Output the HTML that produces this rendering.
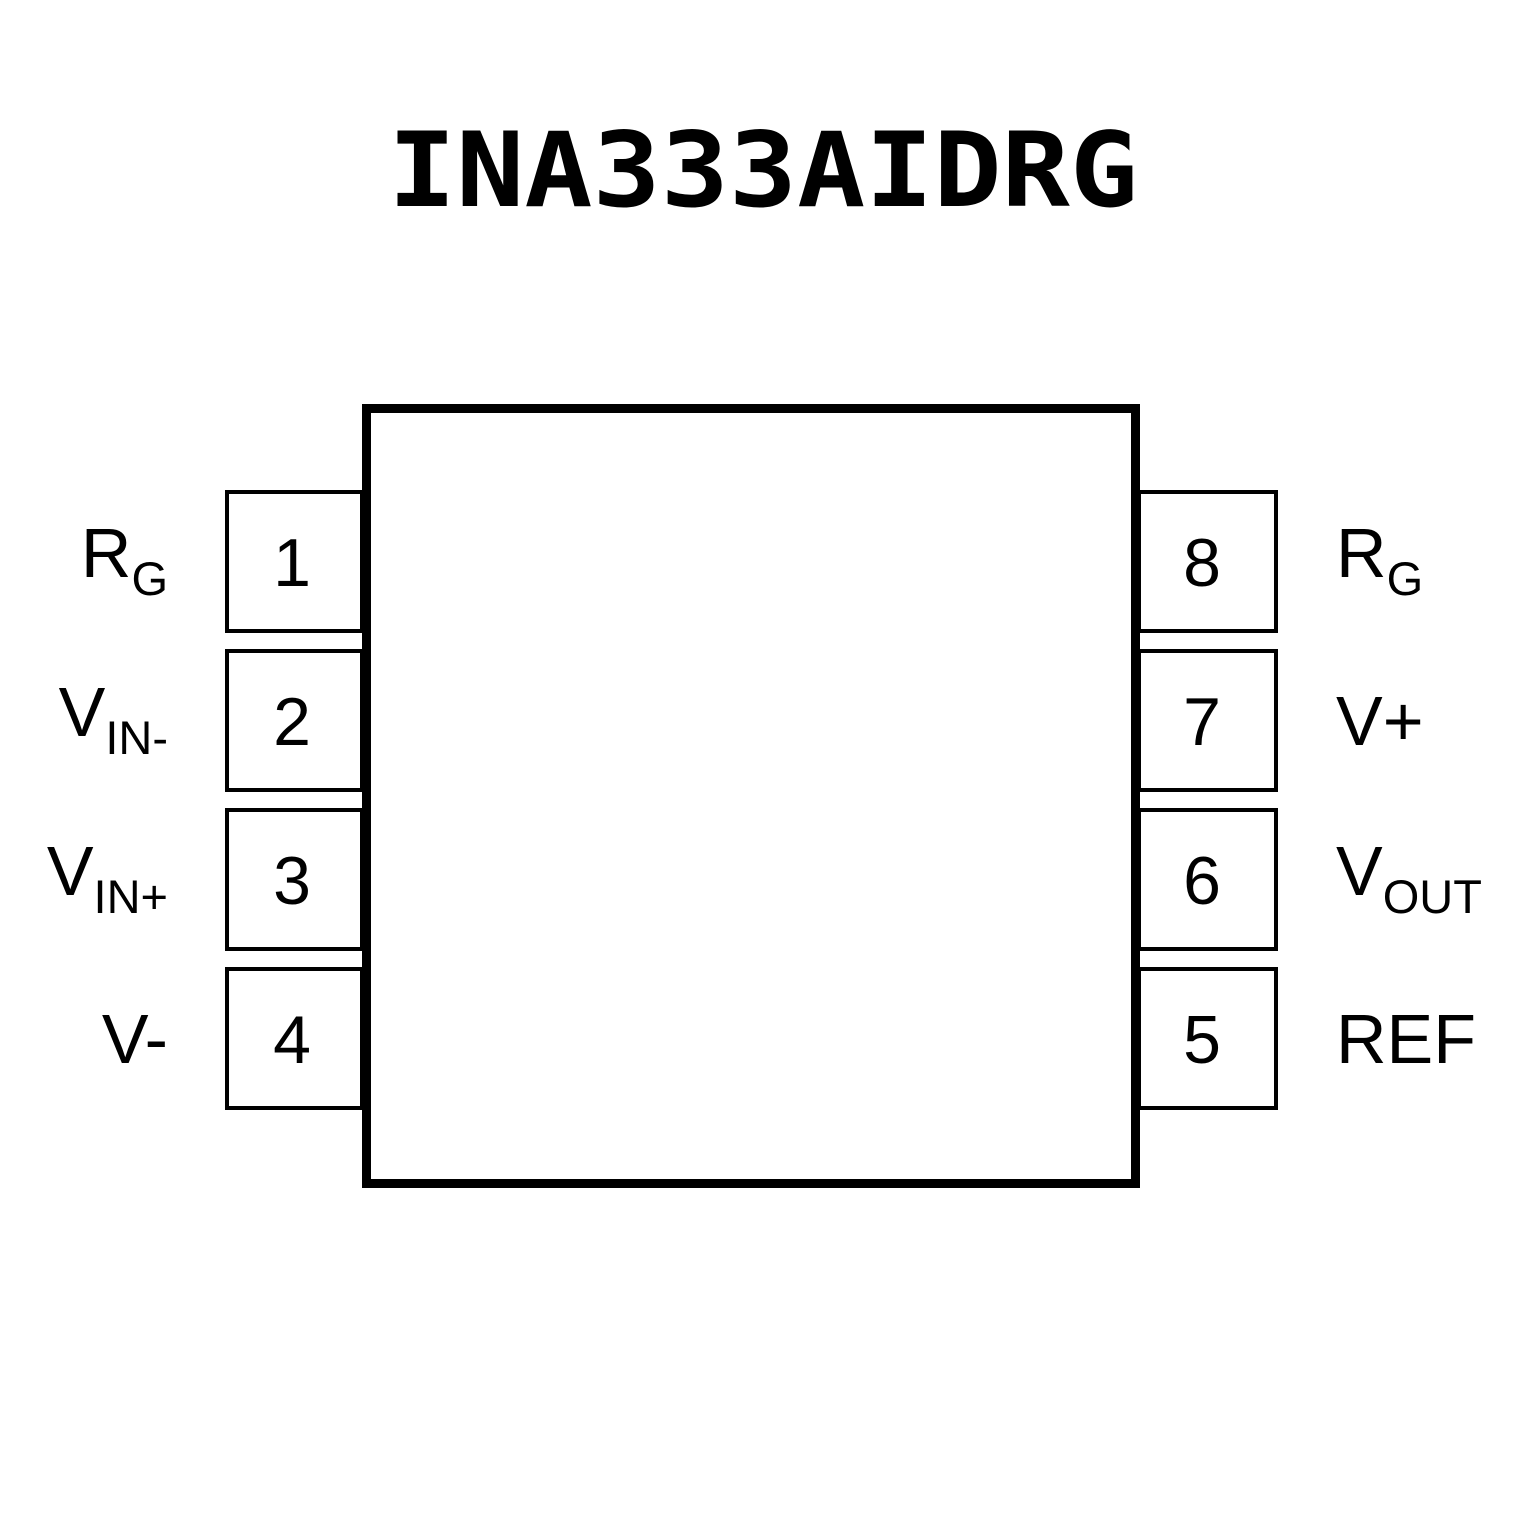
<!DOCTYPE html>
<html><head><meta charset="utf-8"><style>html,body{margin:0;padding:0;background:#fff}svg{display:block}</style></head>
<body>
<svg width="1535" height="1535" viewBox="0 0 1535 1535" xmlns="http://www.w3.org/2000/svg">
<rect width="1535" height="1535" fill="#fff"/>
<text x="388" y="206" font-family="'DejaVu Sans Mono', monospace" font-weight="bold" font-size="103" textLength="750" lengthAdjust="spacingAndGlyphs" fill="#000">INA333AIDRG</text>
<g fill="#fff" stroke="#000" stroke-width="4">
<rect x="227" y="492" width="135" height="139"/>
<rect x="227" y="651" width="135" height="139"/>
<rect x="227" y="810" width="135" height="139"/>
<rect x="227" y="969" width="135" height="139"/>
<rect x="1139" y="492" width="137" height="139"/>
<rect x="1139" y="651" width="137" height="139"/>
<rect x="1139" y="810" width="137" height="139"/>
<rect x="1139" y="969" width="137" height="139"/>
</g>
<rect x="366.5" y="408.5" width="769" height="775" fill="none" stroke="#000" stroke-width="9"/>
<g font-family="'Liberation Sans', Arial, sans-serif" font-size="68" fill="#000" text-anchor="middle">
<text x="292" y="586">1</text>
<text x="292" y="745">2</text>
<text x="292" y="904">3</text>
<text x="292" y="1063">4</text>
<text x="1202" y="586">8</text>
<text x="1202" y="745">7</text>
<text x="1202" y="904">6</text>
<text x="1202" y="1063">5</text>
</g>
<g font-family="'Liberation Sans', Arial, sans-serif" font-size="70" fill="#000">
<text x="168" y="577" text-anchor="end">R<tspan font-size="47" dy="18">G</tspan></text>
<text x="168" y="736" text-anchor="end">V<tspan font-size="47" dy="18">IN-</tspan></text>
<text x="168" y="895" text-anchor="end">V<tspan font-size="47" dy="18">IN+</tspan></text>
<text x="168" y="1063" text-anchor="end">V-</text>
<text x="1336" y="577">R<tspan font-size="47" dy="18">G</tspan></text>
<text x="1336" y="745">V+</text>
<text x="1336" y="895">V<tspan font-size="47" dy="18">OUT</tspan></text>
<text x="1336" y="1063">REF</text>
</g>
</svg>
</body></html>
